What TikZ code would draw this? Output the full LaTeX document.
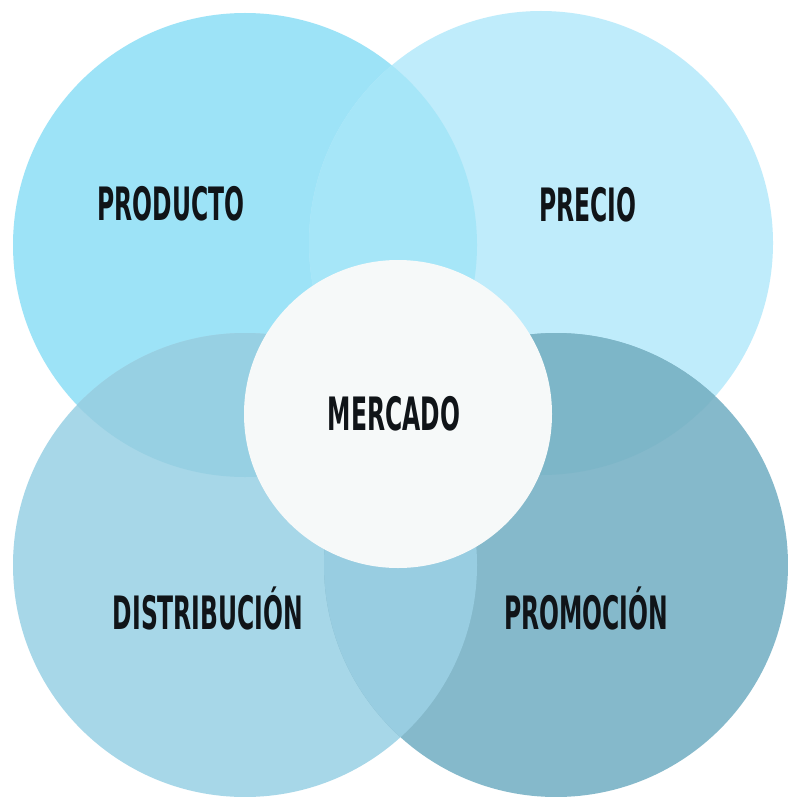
\documentclass[tikz,border=0pt]{standalone}
\usepackage{fontspec}
\newfontfamily\rotfont{DejaVu Sans}[FakeStretch=0.51]
\usepackage{tikz}

\definecolor{producto}{HTML}{9DE3F7}
\definecolor{precio}{HTML}{BFECFB}
\definecolor{distrib}{HTML}{A7D7E8}
\definecolor{promo}{HTML}{85B9CB}
\definecolor{prodprec}{HTML}{A6E6F8}
\definecolor{proddist}{HTML}{97D0E3}
\definecolor{precprom}{HTML}{7DB6C8}
\definecolor{distprom}{HTML}{98CDE1}
\definecolor{mercado}{HTML}{F6F9F9}
\definecolor{tinta}{HTML}{101418}

\begin{document}
\begin{tikzpicture}[x=1pt,y=-1pt,
    rotulo/.style={font=\rotfont\bfseries\fontsize{46}{46}\selectfont,
      text=tinta, inner sep=0pt}]
  \useasboundingbox (0,0) rectangle (787,797);
  \fill[white] (0,0) rectangle (787,797);
  \def\rad{232}
  \coordinate (tl) at (245,245);
  \coordinate (tr) at (541,243);
  \coordinate (bl) at (245,565);
  \coordinate (br) at (556,565);
  \coordinate (c) at (398,414);
  % circulos
  \fill[producto] (tl) circle[radius=\rad];
  \fill[precio] (tr) circle[radius=\rad];
  \fill[distrib] (bl) circle[radius=\rad];
  \fill[promo] (br) circle[radius=\rad];
  % cruces
  \begin{scope}
    \clip (tl) circle[radius=\rad];
    \fill[prodprec] (tr) circle[radius=\rad];
  \end{scope}
  \begin{scope}
    \clip (tl) circle[radius=\rad];
    \fill[proddist] (bl) circle[radius=\rad];
  \end{scope}
  \begin{scope}
    \clip (tr) circle[radius=\rad];
    \fill[precprom] (br) circle[radius=\rad];
  \end{scope}
  \begin{scope}
    \clip (bl) circle[radius=\rad];
    \fill[distprom] (br) circle[radius=\rad];
  \end{scope}
  \fill[mercado] (c) circle[radius=154];
  % textos
  \node[rotulo, anchor=base] (producto) at (171,220) {PRODUCTO};
  \node[rotulo, anchor=base] (precio) at (588,221) {PRECIO};
  \node[rotulo, anchor=base] (mercado) at (394,430) {MERCADO};
  \node[rotulo, anchor=base] (distribucion) at (208,629) {DISTRIBUCIÓN};
  \node[rotulo, anchor=base] (promocion) at (586,629) {PROMOCIÓN};
\end{tikzpicture}
\end{document}
